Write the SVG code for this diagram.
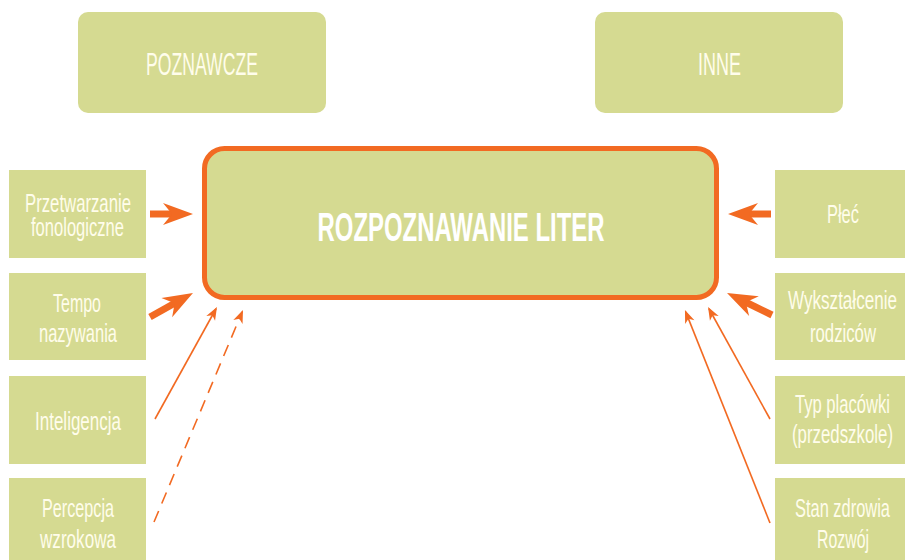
<svg xmlns="http://www.w3.org/2000/svg" width="905" height="560" viewBox="0 0 905 560">
<defs>
<style>
.box{fill:#d5da91}
.main{fill:#d5da91;stroke:#f26a22;stroke-width:5}
.t{font-family:"Liberation Sans",Arial,sans-serif;fill:#fffdeb;text-anchor:middle}
.s{font-size:25px}
.h{font-size:31px}
.m{font-size:40px;font-weight:bold;fill:#ffffff}
.thick{stroke:#f26a22;stroke-width:7;fill:none;marker-end:url(#big)}
.thin{stroke:#f26a22;stroke-width:1.6;fill:none;marker-end:url(#small)}
.dash{stroke-dasharray:12 8}
</style>
<marker id="big" markerUnits="userSpaceOnUse" markerWidth="30" markerHeight="22" refX="14" refY="11" orient="auto" overflow="visible">
<path d="M0,0 L30,11 L0,22 L9,11 z" fill="#f26a22"/>
</marker>
<marker id="small" markerUnits="userSpaceOnUse" markerWidth="13" markerHeight="10" refX="11" refY="5" orient="auto" overflow="visible">
<path d="M0,0 L13,5 L0,10 L3.5,5 z" fill="#f26a22"/>
</marker>
</defs>

<g id="poznawcze">
<rect class="box" x="78" y="12" width="248" height="101" rx="10"/>
<text class="t h" x="202" y="75" textLength="112" lengthAdjust="spacingAndGlyphs">POZNAWCZE</text>
</g>
<g id="inne">
<rect class="box" x="595" y="12" width="248" height="101" rx="10"/>
<text class="t h" x="719.5" y="75" textLength="43" lengthAdjust="spacingAndGlyphs">INNE</text>
</g>

<g id="rozpoznawanie">
<rect class="main" x="204.5" y="148.5" width="512" height="149" rx="20"/>
<text class="t m" x="461" y="241" textLength="287" lengthAdjust="spacingAndGlyphs">ROZPOZNAWANIE LITER</text>
</g>

<g id="przetwarzanie">
<rect class="box" x="9" y="170" width="137" height="88"/>
<text class="t s" x="78" y="212" textLength="106" lengthAdjust="spacingAndGlyphs">Przetwarzanie</text>
<text class="t s" x="77.5" y="236" textLength="93" lengthAdjust="spacingAndGlyphs">fonologiczne</text>
</g>
<g id="tempo">
<rect class="box" x="9" y="273" width="137" height="87"/>
<text class="t s" x="77" y="312" textLength="48" lengthAdjust="spacingAndGlyphs">Tempo</text>
<text class="t s" x="78" y="342" textLength="78" lengthAdjust="spacingAndGlyphs">nazywania</text>
</g>
<g id="inteligencja">
<rect class="box" x="9" y="376" width="137" height="88"/>
<text class="t s" x="78" y="430" textLength="86" lengthAdjust="spacingAndGlyphs">Inteligencja</text>
</g>
<g id="percepcja">
<rect class="box" x="9" y="478" width="137" height="82"/>
<text class="t s" x="78" y="517" textLength="72" lengthAdjust="spacingAndGlyphs">Percepcja</text>
<text class="t s" x="78" y="548" textLength="76" lengthAdjust="spacingAndGlyphs">wzrokowa</text>
</g>

<g id="plec">
<rect class="box" x="775" y="170" width="130" height="88"/>
<text class="t s" x="843" y="223" textLength="32" lengthAdjust="spacingAndGlyphs">Płeć</text>
</g>
<g id="wyksztalcenie">
<rect class="box" x="775" y="273" width="130" height="87"/>
<text class="t s" x="842.5" y="309" textLength="109" lengthAdjust="spacingAndGlyphs">Wykształcenie</text>
<text class="t s" x="843" y="342" textLength="66" lengthAdjust="spacingAndGlyphs">rodziców</text>
</g>
<g id="typ">
<rect class="box" x="775" y="376" width="130" height="88"/>
<text class="t s" x="842.5" y="413" textLength="95" lengthAdjust="spacingAndGlyphs">Typ placówki</text>
<text class="t s" x="842.5" y="443" textLength="101" lengthAdjust="spacingAndGlyphs">(przedszkole)</text>
</g>
<g id="stan">
<rect class="box" x="775" y="478" width="130" height="82"/>
<text class="t s" x="842.5" y="517" textLength="95" lengthAdjust="spacingAndGlyphs">Stan zdrowia</text>
<text class="t s" x="843" y="548" textLength="52" lengthAdjust="spacingAndGlyphs">Rozwój</text>
</g>

<g id="connectors">
<line class="thick" x1="150" y1="214" x2="177" y2="214"/>
<line class="thick" x1="150" y1="317" x2="179" y2="300.8"/>
<line class="thick" x1="771" y1="214" x2="744" y2="214"/>
<line class="thick" x1="772" y1="315" x2="741.4" y2="300"/>
<line class="thin" x1="155" y1="419" x2="216" y2="308.75"/>
<line class="thin dash" x1="154" y1="522" x2="242.2" y2="311.8"/>
<line class="thin" x1="770" y1="419" x2="709" y2="308.75"/>
<line class="thin" x1="770" y1="523" x2="685.7" y2="311.9"/>
</g>
</svg>
